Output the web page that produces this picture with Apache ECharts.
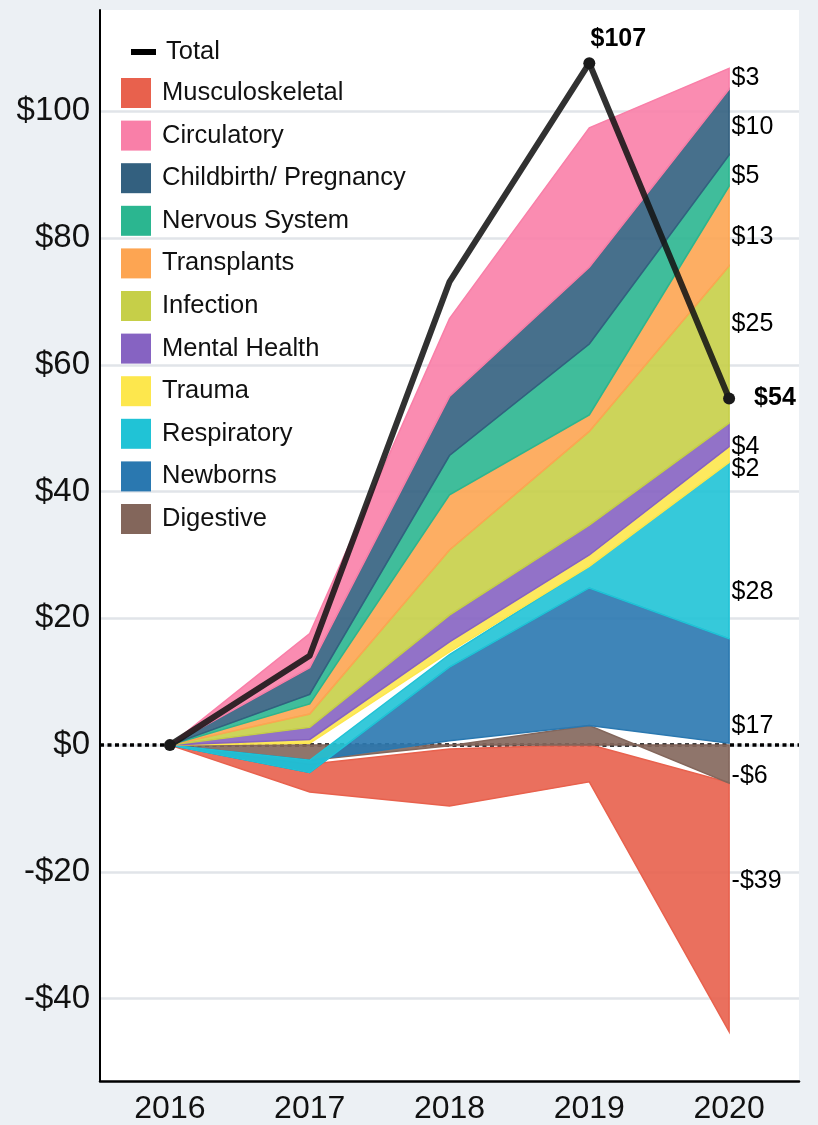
<!DOCTYPE html>
<html>
<head>
<meta charset="utf-8">
<script src="https://cdn.jsdelivr.net/npm/echarts@6/dist/echarts.min.js"></script>
<style>
  html, body { margin: 0; padding: 0; background: #ecf0f4; }
  #chart { width: 818px; height: 1125px; }
</style>
</head>
<body>
<div id="chart"></div>
<script>
const years = ["2016", "2017", "2018", "2019", "2020"];

// drawing order, bottom layer first
const categories = ["Musculoskeletal", "Digestive", "Newborns", "Respiratory", "Trauma",
  "Mental Health", "Infection", "Transplants", "Nervous System", "Childbirth/ Pregnancy", "Circulatory"];
const legendOrder = ["Musculoskeletal", "Circulatory", "Childbirth/ Pregnancy", "Nervous System",
  "Transplants", "Infection", "Mental Health", "Trauma", "Respiratory", "Newborns", "Digestive"];

// lower and upper edge of each band, per year
const musculoLow = [0, -7.4, -9.6, -5.8, -45.2];
const musculoHigh = [0, -3.0, -0.6, 0.1, -5.9];
const digestiveLow = [0, 0, 0, 0, 0];
const digestiveHigh = [0, -2.4, -0.1, 3.1, -6.0];
const newbornsLow = [0, -2.4, 0.7, 3.1, 0.3];
const newbornsHigh = [0, -4.3, 12.3, 24.8, 16.8];
const respiratoryLow = [0, -4.3, 12.3, 24.8, 16.8];
const respiratoryHigh = [0, -2.4, 14.3, 28.2, 44.6];
const traumaLow = [0, 0.3, 14.7, 28.2, 44.6];
const traumaHigh = [0, 0.9, 16.3, 30.0, 47.1];
const mentalLow = [0, 0.9, 16.3, 30.0, 47.1];
const mentalHigh = [0, 2.8, 20.5, 34.7, 50.8];
const infectionLow = [0, 2.8, 20.5, 34.7, 50.8];
const infectionHigh = [0, 4.9, 30.8, 49.5, 75.6];
const transplantsLow = [0, 4.9, 30.8, 49.5, 75.6];
const transplantsHigh = [0, 6.5, 39.5, 52.1, 88.2];
const nervousLow = [0, 6.5, 39.5, 52.1, 88.2];
const nervousHigh = [0, 8.0, 45.7, 63.3, 93.1];
const childbirthLow = [0, 8.0, 45.7, 63.3, 93.1];
const childbirthHigh = [0, 12.2, 55.0, 75.4, 103.5];
const circulatoryLow = [0, 12.2, 55.0, 75.4, 103.5];
const circulatoryHigh = [0, 17.6, 67.3, 97.4, 106.8];

const totalValues = [0, 14.1, 73.1, 107.6, 54.7];

// 2020 change shown at the right, same order as categories
const change2020 = [-39, -6, 17, 28, 2, 4, 25, 13, 5, 10, 3];

const bandLows = [musculoLow, digestiveLow, newbornsLow, respiratoryLow, traumaLow, mentalLow,
  infectionLow, transplantsLow, nervousLow, childbirthLow, circulatoryLow];
const bandHighs = [musculoHigh, digestiveHigh, newbornsHigh, respiratoryHigh, traumaHigh, mentalHigh,
  infectionHigh, transplantsHigh, nervousHigh, childbirthHigh, circulatoryHigh];

const colors = ["#e8614d", "#83665b", "#2a78b0", "#20c3d6", "#fde74d", "#8663c2",
  "#c6cf48", "#fda552", "#2bb690", "#33607f", "#f97fa8"];
// where the 2020 labels sit (value units)
const labelAt = [-21.4, -4.9, 3.0, 24.1, 43.5, 47.1, 66.5, 80.2, 89.8, 97.5, 105.2];

const FONT = "Liberation Sans";

function withAlpha(hex, a) {
  const n = parseInt(hex.slice(1), 16);
  return "rgba(" + (n >> 16) + "," + ((n >> 8) & 255) + "," + (n & 255) + "," + a + ")";
}

function money(v) {
  return v < 0 ? "-$" + Math.abs(v) : "$" + v;
}

function bandRender(color) {
  return function (params, api) {
    if (params.dataIndexInside !== 0) return null;
    const top = [];
    const bottom = [];
    for (let j = 0; j < params.dataInsideLength; j++) {
      top.push(api.coord([api.value(0, j), api.value(2, j)]));
      bottom.push(api.coord([api.value(0, j), api.value(1, j)]));
    }
    return {
      type: "polygon",
      shape: { points: top.concat(bottom.reverse()) },
      style: { fill: withAlpha(color, 0.9), stroke: color, lineWidth: 1.5 },
    };
  };
}

const bandSeries = categories.map((name, i) => ({
  name: name,
  type: "custom",
  z: 2,
  silent: true,
  itemStyle: { color: colors[i] },
  encode: { x: 0, y: [1, 2] },
  renderItem: bandRender(colors[i]),
  data: years.map((y, k) => [y, bandLows[i][k], bandHighs[i][k]]),
}));

const chart = echarts.init(document.getElementById("chart"));
chart.setOption({
  backgroundColor: "#ecf0f4",
  animation: false,
  textStyle: { fontFamily: FONT },
  grid: {
    left: 100, right: 19, top: 10, bottom: 43,
    show: true, backgroundColor: "#ffffff", borderWidth: 0,
  },
  legend: [
    {
      orient: "vertical", left: 126, top: 32, padding: 5,
      itemWidth: 25, itemHeight: 6,
      data: [{ name: "Total", icon: "rect", itemStyle: { color: "#000" } }],
      itemStyle: { borderWidth: 0 },
      textStyle: { fontFamily: FONT, fontSize: 25.5, color: "#111", lineHeight: 30, padding: [0, 0, 0, 5] },
    },
    {
      orient: "vertical", left: 116, top: 73, padding: 5,
      icon: "rect", itemWidth: 30, itemHeight: 30, itemGap: 12.6,
      data: legendOrder,
      itemStyle: { borderWidth: 0 },
      textStyle: { fontFamily: FONT, fontSize: 25.5, color: "#111", lineHeight: 30, padding: [0, 0, 0, 6] },
    },
  ],
  xAxis: {
    type: "category",
    data: years,
    boundaryGap: true,
    axisLine: { onZero: false, lineStyle: { color: "#000", width: 2.5 } },
    axisTick: { show: false },
    axisLabel: { fontFamily: FONT, fontSize: 32, color: "#111", margin: 12 },
    splitLine: { show: false },
  },
  yAxis: {
    type: "value",
    min: -53,
    max: 116,
    splitNumber: 8,
    axisLine: { show: true, lineStyle: { color: "#000", width: 2 } },
    axisTick: { show: false },
    axisLabel: {
      fontFamily: FONT, fontSize: 33, color: "#111", margin: 10,
      showMinLabel: false, showMaxLabel: false,
      formatter: (v) => (v % 20 === 0 ? money(v) : ""),
    },
    splitLine: {
      show: true, showMinLine: false, showMaxLine: false,
      lineStyle: { color: "#e1e4e9", width: 2.5 },
    },
  },
  series: [
    {
      name: "zero",
      type: "line",
      z: 1,
      silent: true,
      symbol: "none",
      lineStyle: { width: 0 },
      data: years.map(() => 0),
      markLine: {
        z: 1,
        silent: true,
        symbol: "none",
        label: { show: false },
        lineStyle: { color: "#000", width: 3.5, type: [4, 3.5] },
        data: [{ yAxis: 0 }],
      },
    },
    ...bandSeries,
    {
      name: "Total",
      type: "line",
      z: 5,
      silent: true,
      color: "#1a1a1a",
      lineStyle: { width: 6, color: "rgba(20,20,20,0.88)", join: "round" },
      itemStyle: { color: "#1a1a1a" },
      symbol: "circle",
      symbolSize: (v, p) => ([0, 3, 4].includes(p.dataIndex) ? 12 : 0),
      data: totalValues.map((v, i) => ({
        value: v,
        label: {
          show: i >= 3,
          position: i === 3 ? "top" : "right",
          distance: i === 3 ? 6 : 19,
          offset: i === 3 ? [29, 0] : [0, 0],
          formatter: () => money(Math.floor(v)),
          fontFamily: FONT, fontSize: 25, fontWeight: "bold", color: "#000",
        },
      })),
    },
    {
      name: "labels",
      type: "scatter",
      z: 6,
      silent: true,
      symbolSize: 1,
      itemStyle: { color: "rgba(0,0,0,0)", opacity: 1 },
      label: {
        show: true,
        position: "right",
        distance: 2,
        fontFamily: FONT, fontSize: 25, color: "#000",
        formatter: (p) => money(change2020[p.dataIndex]),
      },
      data: labelAt.map((y) => [years[4], y]),
    },
  ],
});
</script>
</body>
</html>
